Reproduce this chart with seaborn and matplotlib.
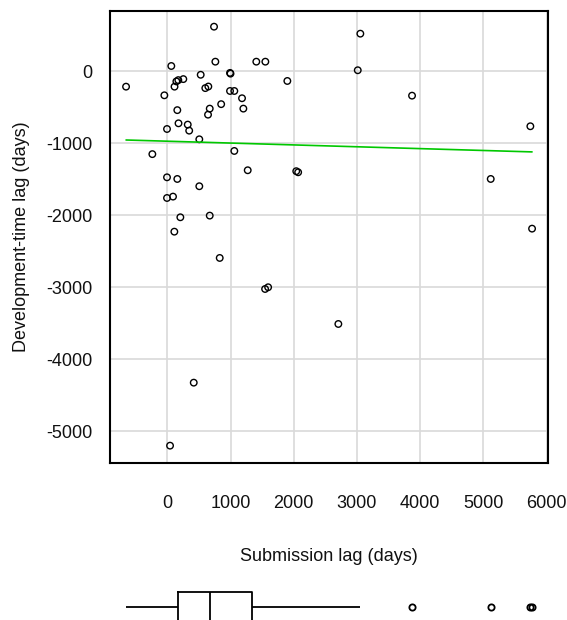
import numpy as np
import pandas as pd
import matplotlib
matplotlib.use('Agg')
import matplotlib.pyplot as plt
import seaborn as sns

# ── Data ──────────────────────────────────────────────────
sub_lag = [739, 760, 1408, 1551, 63, 992, 1000, 528, 253, 174, 143, 1899,
           -653, 114, 649, 601, 992, 1060, -47, 1182, 852, 1203, 671, 158,
           644, 177, 323, 346, -5, 506, -237, 1060, 1272, 2040, 2070, -5,
           158, 506, -5, 90, 206, 671, 111, 829, 1547, 1595, 2706, 418, 43,
           3054, 3013, 3872, 5744, 5117, 5771]
dev_lag = [622, 136, 136, 136, 76, -20, -30, -46, -106, -120, -138, -132,
           -211, -211, -209, -231, -271, -271, -331, -372, -454, -516, -516, -537,
           -600, -720, -738, -822, -799, -942, -1148, -1104, -1372, -1385, -1400, -1470,
           -1493, -1594, -1757, -1738, -2025, -2002, -2225, -2590, -3021, -2997, -3507, -4322, -5197,
           525, 17, -336, -761, -1493, -2183]

x_ticks = [0, 1000, 2000, 3000, 4000, 5000, 6000]
y_ticks = [0, -1000, -2000, -3000, -4000, -5000]

df = pd.DataFrame({'sub': sub_lag, 'dev': dev_lag})

sns.set_style('white')
plt.rcParams['font.family'] = ['Liberation Sans', 'DejaVu Sans']

W, H = 567, 620
fig = plt.figure(figsize=(W / 100, H / 100), dpi=100)

# ── Scatter + fit ─────────────────────────────────────────
ax = fig.add_axes([110 / W, 1 - 463.3 / H, (548.3 - 110) / W, (463.3 - 10.7) / H])
ax.grid(True, color='#d9d9d9', linewidth=1.2)
ax.set_axisbelow(True)
sns.scatterplot(data=df, x='sub', y='dev', ax=ax, marker='o', s=22,
                facecolor='none', edgecolor='black', linewidth=1.0, zorder=3)
sns.regplot(data=df, x='sub', y='dev', ax=ax, scatter=False, ci=None, truncate=True,
            line_kws=dict(color='#00c800', linewidth=1.2, zorder=4))

ax.set_xlim(-907, 6028)
ax.set_ylim(-5442, 844)
ax.set_xticks(x_ticks)
ax.set_yticks(y_ticks)
ax.set_xticklabels([str(v) for v in x_ticks])
ax.set_yticklabels([str(v) for v in y_ticks])
for s in ax.spines.values():
    s.set_color('black')
    s.set_linewidth(1.5)
ax.tick_params(axis='both', which='both', direction='out', length=8, width=1.2,
               color='black', labelsize=13, labelcolor='#111111')
ax.tick_params(axis='x', pad=15)
ax.tick_params(axis='y', pad=4.5)
ax.set_xlabel('Submission lag (days)', fontsize=13, color='#111111', labelpad=26)
ax.set_ylabel('Development-time lag (days)', fontsize=13, color='#111111', labelpad=12)

# ── Marginal boxplot (cut off by the figure edge) ─────────
ax2 = fig.add_axes([110 / W, 1 - 637 / H, (548.3 - 110) / W, 60 / H])
sns.boxplot(x=sub_lag, ax=ax2, fill=False, color='black', linecolor='black',
            width=0.5, showcaps=False, whis=1.5, linewidth=1.3,
            medianprops=dict(color='black', linewidth=1.3),
            flierprops=dict(marker='o', markersize=4.5, markerfacecolor='none',
                            markeredgecolor='black', markeredgewidth=1.3))
ax2.set_xlim(ax.get_xlim())
ax2.set_ylim(0.5, -0.5)
ax2.axis('off')

fig.savefig('out.png', dpi=100)
